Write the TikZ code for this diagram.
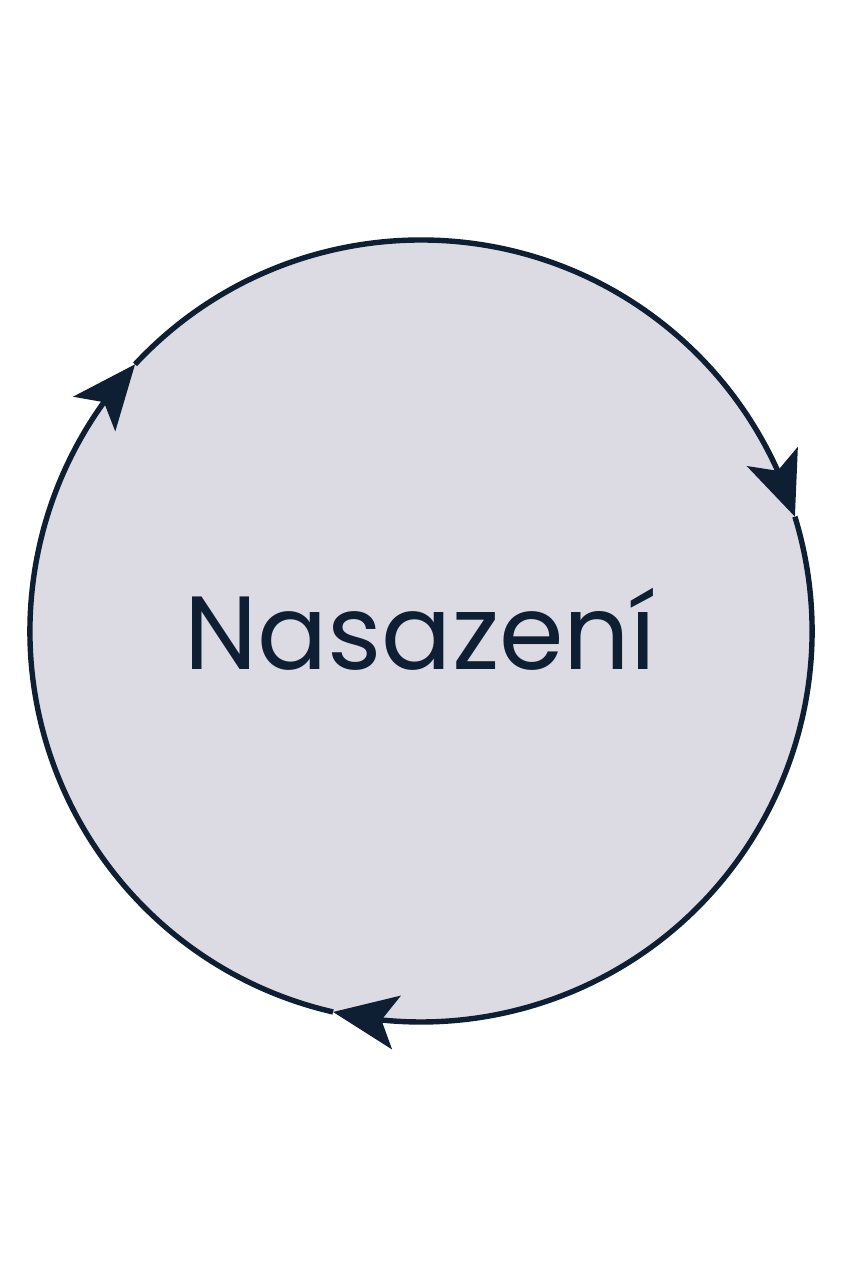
\documentclass[tikz,border=0pt]{standalone}
\usepackage{fontspec}
\setmainfont{Poppins}
\usetikzlibrary{arrows.meta,bending}
\definecolor{navy}{HTML}{0E1E33}
\definecolor{discfill}{HTML}{DCDBE4}
\begin{document}
\begin{tikzpicture}[x=1pt,y=1pt,
  cyclearc/.style={draw=navy, line width=5.4pt,
    -{Stealth[length=64pt,width=54pt,inset=15pt,flex]}}]
\useasboundingbox (0,0) rectangle (842,1264);
\node[circle, fill=discfill, minimum size=782pt, inner sep=0pt] (disc) at (421,633) {};
\node[text=navy, font=\fontsize{104}{120}\selectfont, anchor=base, inner sep=0pt] (label) at (420,594) {Nasazení};
\draw[cyclearc] ([shift={(257:391)}]disc.center) arc[start angle=257, end angle=137, radius=391];
\draw[cyclearc] ([shift={(137:391)}]disc.center) arc[start angle=137, end angle=17, radius=391];
\draw[cyclearc] ([shift={(17:391)}]disc.center) arc[start angle=17, end angle=-103, radius=391];
\end{tikzpicture}
\end{document}
